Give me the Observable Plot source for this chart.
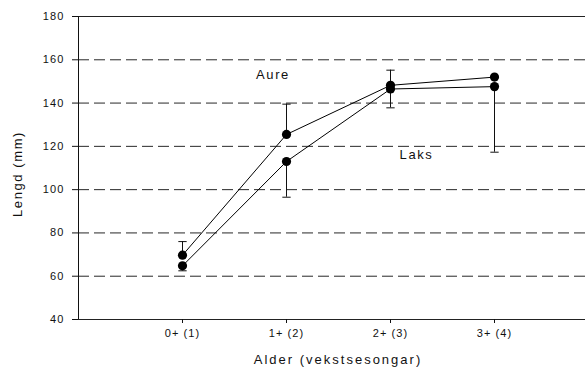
<!DOCTYPE html>
<html>
<head>
<meta charset="utf-8">
<script src="https://cdn.jsdelivr.net/npm/d3@7"></script>
<script src="https://cdn.jsdelivr.net/npm/@observablehq/plot@0.6"></script>
<style>
  html, body { margin: 0; padding: 0; background: #fff; }
  svg { display: block; font-family: "Liberation Sans", Arial, sans-serif; }
  svg text { letter-spacing: 1.6px; }
  svg g[aria-label$="tick label"] text { letter-spacing: 1.1px; }
</style>
</head>
<body>
<div id="chart"></div>
<script>
// Categories (age groups) and their positions
const ages = ["0+ (1)", "1+ (2)", "2+ (3)", "3+ (4)"];
const agePos = [1, 2, 3, 4];

// Series: mean length (mm)
const aure = [69.7, 125.5, 148.2, 152.0];
const laks = [64.8, 113.0, 146.5, 147.6];

// Error bar ends (Aure upward, Laks downward)
const aureErrTop = [76.0, 139.5, 155.2, 152.0];
const laksErrBottom = [62.5, 96.5, 137.8, 117.3];

// Axis ticks and labels
const yTicks = [40, 60, 80, 100, 120, 140, 160, 180];
const gridValues = [60, 80, 100, 120, 140, 160];
const seriesLabels = [
  {name: "Aure", x: 1.87, y: 153},
  {name: "Laks", x: 3.25, y: 116}
];

const rows = [];
agePos.forEach((p, i) => {
  rows.push({series: "Aure", x: p, y: aure[i], err: aureErrTop[i]});
  rows.push({series: "Laks", x: p, y: laks[i], err: laksErrBottom[i]});
});
const capHalf = 0.04;

const chart = Plot.plot({
  width: 585,
  height: 367,
  marginLeft: 78,
  marginRight: 0,
  marginTop: 16,
  marginBottom: 48,
  style: {fontFamily: "Liberation Sans, Arial, sans-serif", fontSize: "11px", color: "#111"},
  x: {domain: [0, 4.875]},
  y: {domain: [40, 180]},
  marks: [
    Plot.ruleY(gridValues, {stroke: "#000", strokeWidth: 1, strokeDasharray: "11,5", strokeOpacity: 0.85}),
    Plot.ruleY([180], {stroke: "#222", strokeWidth: 1}),
    Plot.ruleY([40], {stroke: "#222", strokeWidth: 1}),
    Plot.ruleX([0], {stroke: "#111", strokeWidth: 1}),
    Plot.axisY({ticks: yTicks, tickSize: 6, tickPadding: 8, label: null, fontSize: 11, stroke: "#111"}),
    Plot.axisX({ticks: agePos, tickSize: 4, tickPadding: 6, label: null, tickFormat: d => ages[d - 1], fontSize: 11}),
    // error bars
    Plot.ruleX(rows, {x: "x", y1: "y", y2: "err", stroke: "#111", strokeWidth: 1}),
    Plot.link(rows, {x1: d => d.x - capHalf, x2: d => d.x + capHalf, y1: "err", y2: "err", stroke: "#111", strokeWidth: 1}),
    // lines
    Plot.line(rows, {x: "x", y: "y", z: "series", stroke: "#000", strokeWidth: 1}),
    Plot.dot(rows, {x: "x", y: "y", r: 4.6, fill: "#000", stroke: null}),
    // series labels
    Plot.text(seriesLabels, {x: "x", y: "y", text: "name", fontSize: 13, fill: "#111"}),
    // axis titles
    Plot.text(["Alder (vekstsesongar)"], {frameAnchor: "bottom", textAnchor: "middle", dy: 44, dx: 6, fontSize: 13, fill: "#111", style: {letterSpacing: "2px"}}),
    Plot.text(["Lengd (mm)"], {frameAnchor: "left", textAnchor: "middle", dx: -61, dy: 6, rotate: -90, fontSize: 13, fill: "#111"})
  ]
});
d3.select(chart).selectAll("text").filter(function() { return this.textContent === "Alder (vekstsesongar)"; }).style("letter-spacing", "2px");
document.getElementById("chart").appendChild(chart);
</script>
</body>
</html>
